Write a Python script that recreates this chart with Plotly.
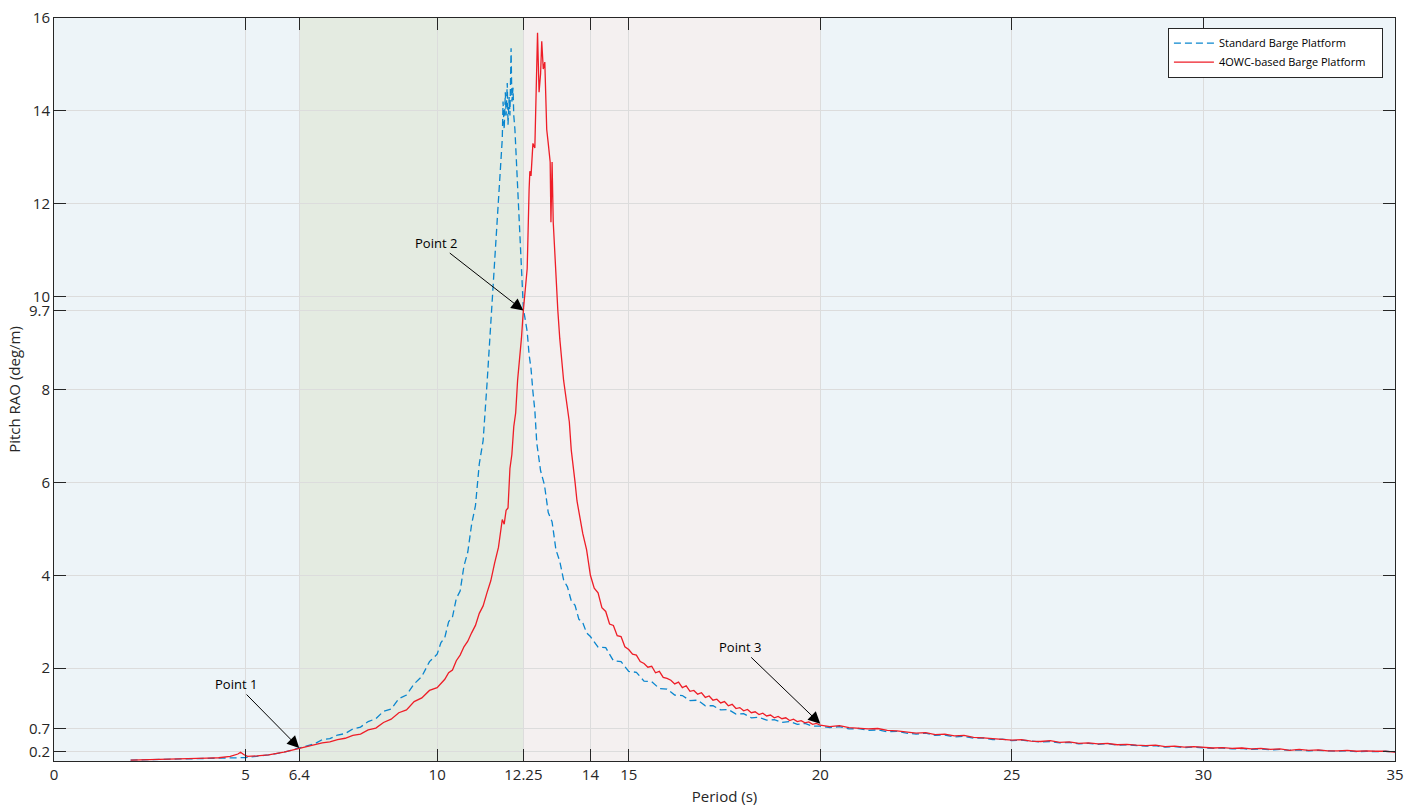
import plotly.graph_objects as go

# ---------------- data ----------------
std_period = [
    2.0, 2.4, 2.8, 3.2, 3.6, 4.0, 4.4, 4.8, 5.0, 5.2, 5.6, 6.0, 6.4,
    6.6, 6.8, 7.0, 7.2, 7.4, 7.6, 7.8, 8.0, 8.2, 8.4, 8.6, 8.8, 9.0, 9.2, 9.4, 9.6, 9.8,
    10.0, 10.1, 10.2, 10.3, 10.4, 10.5, 10.6, 10.7, 10.8, 10.9, 11.0, 11.1, 11.2, 11.3,
    11.4, 11.5, 11.55, 11.6, 11.65, 11.7, 11.72, 11.75, 11.78, 11.8, 11.83, 11.85, 11.88,
    11.9, 11.93, 11.95, 11.98, 12.0, 12.03, 12.07, 12.1, 12.15, 12.2, 12.25, 12.3, 12.35,
    12.4, 12.45, 12.5, 12.55, 12.6, 12.65, 12.7, 12.8, 12.9, 13.0, 13.1, 13.2, 13.3, 13.4,
    13.5, 13.6, 13.7, 13.8, 13.9, 14.0, 14.2, 14.4, 14.6, 14.8, 15.0, 15.2, 15.4, 15.6,
    15.8, 16.0, 16.2, 16.4, 16.6, 16.8, 17.0, 17.2, 17.4, 17.6, 17.8, 18.0, 18.2, 18.4,
    18.6, 18.8, 19.0, 19.2, 19.4, 19.6, 19.8, 20.0,
    20.25, 20.5, 20.75, 21.0, 21.25, 21.5, 21.75, 22.0, 22.25, 22.5, 22.75, 23.0, 23.25,
    23.5, 23.75, 24.0, 24.25, 24.5, 24.75, 25.0, 25.25, 25.5, 25.75, 26.0, 26.25, 26.5,
    26.75, 27.0, 27.25, 27.5, 27.75, 28.0, 28.25, 28.5, 28.75, 29.0, 29.25, 29.5, 29.75,
    30.0, 30.25, 30.5, 30.75, 31.0, 31.25, 31.5, 31.75, 32.0, 32.25, 32.5, 32.75, 33.0,
    33.25, 33.5, 33.75, 34.0, 34.25, 34.5, 34.75, 35.0,
]
std_rao = [
    0.02, 0.025, 0.03, 0.035, 0.045, 0.05, 0.06, 0.07, 0.075, 0.09, 0.13, 0.19, 0.28,
    0.34, 0.37, 0.46, 0.48, 0.56, 0.59, 0.69, 0.73, 0.85, 0.91, 1.07, 1.12, 1.34, 1.42, 1.66, 1.82, 2.14,
    2.3, 2.55, 2.66, 3.0, 3.1, 3.5, 3.66, 4.2, 4.5, 5.1, 5.5, 6.4, 6.9, 8.1,
    9.4, 10.8, 11.5, 12.1, 12.8, 13.4, 14.2, 13.6, 14.4, 13.9, 14.6, 13.7, 14.3,
    13.9, 15.35, 14.2, 14.5, 13.9, 13.6, 12.9, 12.5, 11.7, 10.9, 9.75, 9.5, 9.25,
    8.75, 8.45, 7.95, 7.55, 6.85, 6.55, 6.25, 5.95, 5.35, 5.15, 4.55, 4.3, 3.9, 3.75,
    3.45, 3.35, 3.05, 2.98, 2.76, 2.68, 2.45, 2.44, 2.16, 2.14, 1.93, 1.91, 1.72, 1.71,
    1.56, 1.55, 1.42, 1.41, 1.3, 1.31, 1.19, 1.19, 1.1, 1.11, 1.01, 1.02, 0.93, 0.94,
    0.88, 0.89, 0.83, 0.85, 0.79, 0.81, 0.75, 0.75,
    0.72, 0.74, 0.69, 0.7, 0.66, 0.67, 0.63, 0.64, 0.6, 0.58, 0.6, 0.55, 0.56,
    0.52, 0.53, 0.49, 0.5, 0.46, 0.47, 0.44, 0.45, 0.43, 0.41, 0.42, 0.39, 0.4,
    0.37, 0.38, 0.36, 0.37, 0.34, 0.35, 0.33, 0.32, 0.33, 0.3, 0.31, 0.29, 0.3,
    0.28, 0.27, 0.28, 0.26, 0.27, 0.25, 0.26, 0.24, 0.25, 0.23, 0.24, 0.22, 0.23,
    0.22, 0.21, 0.22, 0.2, 0.21, 0.2, 0.21, 0.19,
]

owc_period = [
    2.0, 2.4, 2.8, 3.2, 3.6, 4.0, 4.3, 4.6, 4.8, 4.87, 4.95, 5.05, 5.3, 5.6, 6.0, 6.4,
    6.6, 6.8, 7.0, 7.2, 7.4, 7.6, 7.8, 8.0, 8.2, 8.4, 8.6, 8.8, 9.0, 9.2, 9.4, 9.6, 9.8,
    10.0, 10.1, 10.2, 10.3, 10.4, 10.5, 10.6, 10.7, 10.8, 10.9, 11.0, 11.1, 11.2, 11.3,
    11.4, 11.5, 11.6, 11.7, 11.75, 11.8, 11.85, 11.9, 11.95, 12.0, 12.05, 12.1, 12.15,
    12.2, 12.25, 12.3, 12.35, 12.4, 12.42, 12.45, 12.5, 12.55, 12.58, 12.62, 12.66, 12.7,
    12.73, 12.77, 12.81, 12.86, 12.9, 12.95, 12.97, 13.0, 13.03, 13.1, 13.15, 13.2, 13.25,
    13.3, 13.35, 13.4, 13.45, 13.5, 13.55, 13.6, 13.65, 13.7, 13.75, 13.8, 13.9, 14.0,
    14.1, 14.2, 14.3, 14.4, 14.5, 14.6, 14.7, 14.8, 14.9,
    15.0, 15.1, 15.2, 15.3, 15.4, 15.5, 15.6, 15.7, 15.8, 15.9,
    16.0, 16.1, 16.2, 16.3, 16.4, 16.5, 16.6, 16.7, 16.8, 16.9,
    17.0, 17.1, 17.2, 17.3, 17.4, 17.5, 17.6, 17.7, 17.8, 17.9,
    18.0, 18.1, 18.2, 18.3, 18.4, 18.5, 18.6, 18.7, 18.8, 18.9,
    19.0, 19.1, 19.2, 19.3, 19.4, 19.5, 19.6, 19.7, 19.8, 19.9, 20.0,
    20.25, 20.5, 20.75, 21.0, 21.25, 21.5, 21.75, 22.0, 22.25, 22.5, 22.75, 23.0, 23.25,
    23.5, 23.75, 24.0, 24.25, 24.5, 24.75, 25.0, 25.25, 25.5, 25.75, 26.0, 26.25, 26.5,
    26.75, 27.0, 27.25, 27.5, 27.75, 28.0, 28.25, 28.5, 28.75, 29.0, 29.25, 29.5, 29.75,
    30.0, 30.25, 30.5, 30.75, 31.0, 31.25, 31.5, 31.75, 32.0, 32.25, 32.5, 32.75, 33.0,
    33.25, 33.5, 33.75, 34.0, 34.25, 34.5, 34.75, 35.0,
]
owc_rao = [
    0.02, 0.025, 0.03, 0.04, 0.05, 0.06, 0.07, 0.1, 0.15, 0.19, 0.14, 0.1, 0.11, 0.13, 0.19, 0.27,
    0.3, 0.34, 0.39, 0.41, 0.46, 0.49, 0.55, 0.58, 0.67, 0.71, 0.83, 0.9, 1.04, 1.1, 1.28, 1.36, 1.52,
    1.58, 1.68, 1.76, 1.9, 1.96, 2.16, 2.28, 2.46, 2.58, 2.76, 2.92, 3.18, 3.34, 3.62,
    3.88, 4.26, 4.6, 5.2, 5.1, 5.4, 5.45, 6.3, 6.6, 7.2, 7.5, 8.2, 8.6,
    9.1, 9.7, 10.1, 10.6, 12.3, 12.7, 12.6, 13.3, 13.2, 14.5, 15.68, 14.4, 14.8,
    15.5, 14.9, 15.05, 13.6, 13.3, 12.9, 11.6, 12.9, 11.6, 10.3, 9.7, 9.1, 8.6,
    8.2, 7.9, 7.6, 7.3, 6.7, 6.4, 6.0, 5.6, 5.35, 5.2, 4.9, 4.55, 4.0,
    3.72, 3.62, 3.3, 3.22, 2.95, 2.92, 2.7, 2.68, 2.46,
    2.40, 2.30, 2.28, 2.14, 2.10, 2.02, 2.04, 1.90, 1.93, 1.80,
    1.78, 1.74, 1.66, 1.70, 1.58, 1.62, 1.50, 1.52, 1.44, 1.47,
    1.37, 1.40, 1.31, 1.33, 1.25, 1.28, 1.19, 1.22, 1.13, 1.15,
    1.08, 1.11, 1.04, 1.06, 1.00, 1.03, 0.97, 0.99, 0.93, 0.96,
    0.91, 0.93, 0.87, 0.90, 0.85, 0.87, 0.82, 0.84, 0.79, 0.81, 0.77,
    0.74, 0.76, 0.72, 0.71, 0.69, 0.7, 0.66, 0.65, 0.62, 0.6, 0.61, 0.57, 0.58,
    0.54, 0.55, 0.51, 0.5, 0.48, 0.47, 0.45, 0.46, 0.43, 0.42, 0.44, 0.4, 0.41,
    0.38, 0.39, 0.37, 0.38, 0.35, 0.36, 0.34, 0.33, 0.34, 0.31, 0.32, 0.3, 0.31,
    0.29, 0.28, 0.29, 0.27, 0.28, 0.26, 0.27, 0.25, 0.26, 0.23, 0.25, 0.23, 0.24,
    0.22, 0.22, 0.23, 0.21, 0.22, 0.21, 0.21, 0.19,
]

x_tick_vals = [0, 5, 6.4, 10, 12.25, 14, 15, 20, 25, 30, 35]
x_tick_text = ["0", "5", "6.4", "10", "12.25", "14", "15", "20", "25", "30", "35"]
y_tick_vals = [0.2, 0.7, 2, 4, 6, 8, 9.7, 10, 12, 14, 16]
y_tick_text = ["0.2", "0.7", "2", "4", "6", "8", "9.7", "10", "12", "14", "16"]

band_edges = [0, 6.4, 12.25, 20, 35]
band_colors = ["#EDF4F8", "#E4EBE1", "#F4F0F0", "#EDF4F8"]

point_labels = ["Point 1", "Point 2", "Point 3"]
point_x = [6.4, 12.25, 20]
point_y = [0.28, 9.7, 0.8]

# ---------------- figure ----------------
FONT = "Open Sans"
DARK = "#262626"
PAD = "\u00a0\u00a0\u00a0\u00a0"
fig = go.Figure()

fig.add_trace(go.Scatter(
    x=std_period, y=std_rao, mode="lines", name="Standard Barge Platform" + PAD,
    line=dict(color="#0A86CE", width=1.3, dash="7px,4px"),
))
fig.add_trace(go.Scatter(
    x=owc_period, y=owc_rao, mode="lines", name="4OWC-based Barge Platform" + PAD,
    line=dict(color="#EE1D27", width=1.3),
))

for i, c in enumerate(band_colors):
    fig.add_shape(type="rect", xref="x", yref="y",
                  x0=band_edges[i], x1=band_edges[i + 1], y0=0, y1=16,
                  fillcolor=c, line=dict(width=0), layer="below")

offsets = [(-63, -64), (-87, -68), (-80, -77)]
for lab, px, py, (ax, ay) in zip(point_labels, point_x, point_y, offsets):
    fig.add_annotation(x=px, y=py, text=lab, showarrow=True, ax=ax, ay=ay,
                       arrowhead=2, arrowsize=2.4, arrowwidth=1, arrowcolor="black",
                       font=dict(family=FONT, size=13, color="black"))

axis_common = dict(
    showline=True, linecolor=DARK, linewidth=1, mirror="ticks",
    ticks="inside", ticklen=12, tickcolor=DARK, tickwidth=1,
    showgrid=True, gridcolor="#DCDCDC", gridwidth=1, zeroline=False,
    tickfont=dict(family=FONT, size=15, color=DARK), automargin=False,
)

fig.update_xaxes(range=[0, 35], tickmode="array", tickvals=x_tick_vals, ticktext=x_tick_text,
                 title=dict(text="Period (s)", font=dict(family=FONT, size=15, color=DARK), standoff=8),
                 **axis_common)
fig.update_yaxes(range=[0, 16], tickmode="array", tickvals=y_tick_vals, ticktext=y_tick_text,
                 title=dict(text="Pitch RAO (deg/m)", font=dict(family=FONT, size=15, color=DARK), standoff=4),
                 **axis_common)

fig.update_layout(
    width=1421, height=810, autosize=False,
    margin=dict(l=54, r=26, t=18, b=49),
    paper_bgcolor="white", plot_bgcolor="#EDF4F8",
    font=dict(family=FONT, color=DARK),
    showlegend=True,
    legend=dict(x=0.991, y=0.987, xanchor="right", yanchor="top",
                bgcolor="white", bordercolor=DARK, borderwidth=1,
                font=dict(family=FONT, size=11, color="black"),
                tracegroupgap=0, itemwidth=40),
)

fig.write_html("out.html")
